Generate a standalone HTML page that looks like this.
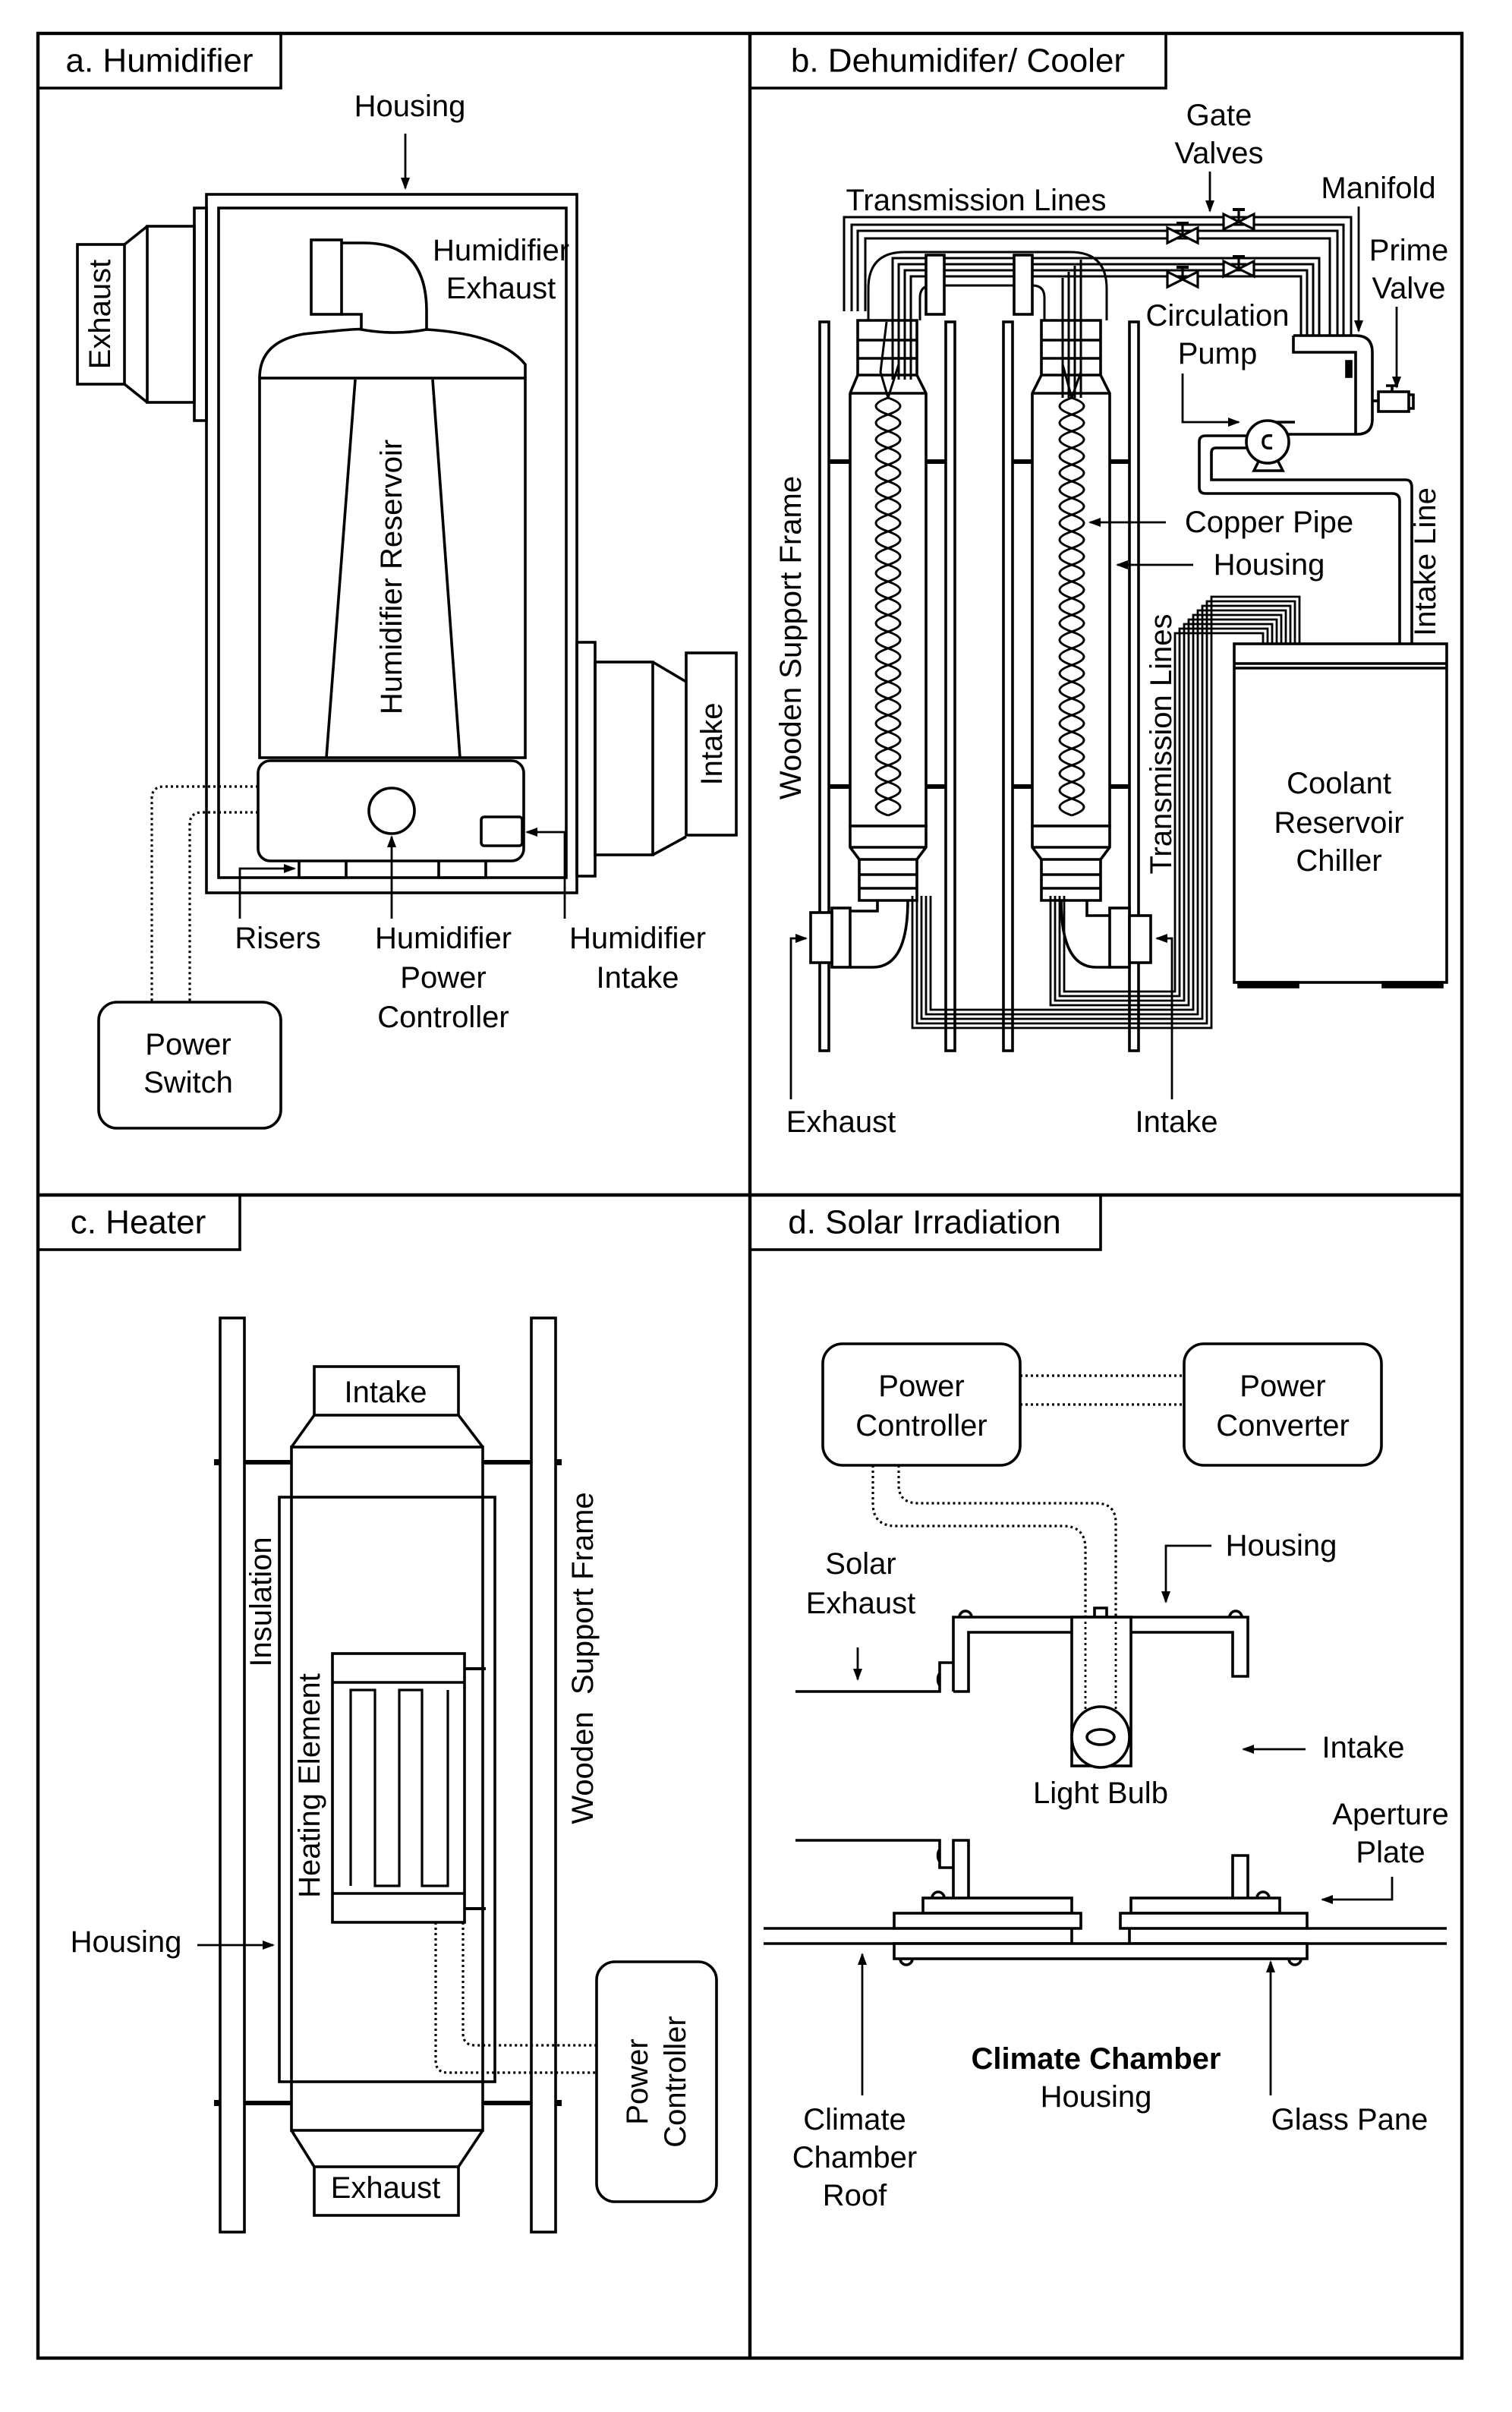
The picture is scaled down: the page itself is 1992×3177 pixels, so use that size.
<!DOCTYPE html>
<html><head><meta charset="utf-8"><style>
html,body{margin:0;padding:0;background:#fff}
svg{display:block}
text{font-family:"Liberation Sans",sans-serif;font-size:20px;fill:#000}
.t{font-size:22px}
</style></head><body>
<svg width="1992" height="3177" viewBox="0 0 996 1588.5" xmlns="http://www.w3.org/2000/svg">
<defs>
<marker id="ah" markerWidth="8" markerHeight="8" refX="7" refY="4" orient="auto" markerUnits="userSpaceOnUse"><path d="M0,1 L8,4 L0,7 Z" fill="#000"/></marker>
<path id="coilA" d="M0,262 Q16,267.5 0,273 T0,284 T0,295 T0,306 T0,317 T0,328 T0,339 T0,350 T0,361 T0,372 T0,383 T0,394 T0,405 T0,416 T0,427 T0,438 T0,449 T0,460 T0,471 T0,482 T0,493 T0,504 T0,515 T0,526 T0,537"/>
<path id="coilB" d="M0,262 Q-16,267.5 0,273 T0,284 T0,295 T0,306 T0,317 T0,328 T0,339 T0,350 T0,361 T0,372 T0,383 T0,394 T0,405 T0,416 T0,427 T0,438 T0,449 T0,460 T0,471 T0,482 T0,493 T0,504 T0,515 T0,526 T0,537"/>
<g id="valve"><path d="M-10,-5 L10,5 L10,-5 L-10,5 Z" fill="#fff" stroke="#000" stroke-width="1.6"/><line x1="0" y1="0" x2="0" y2="-8" stroke="#000" stroke-width="1.6"/><line x1="-4" y1="-8" x2="4" y2="-8" stroke="#000" stroke-width="2"/></g>
</defs>
<g fill="none" stroke="#000" stroke-width="1.8">
<rect x="25" y="22" width="938" height="1531" stroke-width="2.2"/>
<line x1="494" y1="22" x2="494" y2="1553" stroke-width="2.2"/>
<line x1="25" y1="787" x2="963" y2="787" stroke-width="2.2"/>
<rect x="25" y="22" width="160" height="36"/>
<rect x="494" y="22" width="274" height="36"/>
<rect x="25" y="787" width="133" height="36"/>
<rect x="494" y="787" width="231" height="36"/>

<!-- ===== Panel a ===== -->
<rect x="136" y="128" width="244" height="460"/>
<rect x="144" y="137" width="229" height="441"/>
<rect x="128" y="137" width="8" height="140"/>
<rect x="97" y="149" width="31" height="116"/>
<path d="M97,149 L82,161 M97,265 L82,253"/>
<rect x="51" y="161" width="31" height="92"/>
<rect x="205" y="158" width="20" height="49"/>
<path d="M225,160 H240 Q281,160 281,205 V217"/>
<path d="M225,207 H238 V217"/>
<path d="M171,249 Q171,225 200,220 Q238,216 238,217 Q260,221 281,217 Q330,220 346,240 L346,249"/>
<rect x="171" y="249" width="175" height="250"/>
<path d="M234,250 L215,499 M285,250 L303,499"/>
<rect x="170" y="501" width="175" height="66" rx="8"/>
<circle cx="258" cy="534" r="15"/>
<rect x="317" y="538" width="27" height="19" rx="2"/>
<path d="M197,567 V578 M228,567 V578 M289,567 V578 M320,567 V578 M197,578 H228 M289,578 H320"/>
<rect x="380" y="423" width="12" height="154"/>
<rect x="392" y="436" width="38" height="127"/>
<path d="M430,436 L452,449 M430,563 L452,551"/>
<rect x="452" y="430" width="33" height="120"/>
<path d="M170,518 H108 Q100,518 100,526 V660" stroke-dasharray="1.5,2" stroke-width="1.6"/>
<path d="M170,535 H133 Q125,535 125,543 V660" stroke-dasharray="1.5,2" stroke-width="1.6"/>
<rect x="65" y="660" width="120" height="83" rx="12"/>
<path d="M267,88 V124" marker-end="url(#ah)" stroke-width="1.4"/>
<path d="M158,605 V572 H194" marker-end="url(#ah)" stroke-width="1.4"/>
<path d="M258,605 V551" marker-end="url(#ah)" stroke-width="1.4"/>
<path d="M372,605 V548 H347" marker-end="url(#ah)" stroke-width="1.4"/>

<!-- ===== Panel b ===== -->
<rect x="540" y="212" width="6" height="480"/>
<rect x="623" y="212" width="6" height="480"/>
<rect x="661" y="212" width="6" height="480"/>
<rect x="744" y="212" width="6" height="480"/>
<g stroke-width="3">
<path d="M546,304 H560 M610,304 H623 M667,304 H680 M731,304 H744"/>
<path d="M546,518 H560 M610,518 H623 M667,518 H680 M731,518 H744"/>
</g>
<path d="M565,211 H604 V247 L610,259 V544 H560 V259 L565,247 Z" fill="#fff"/>
<path d="M565,224 H604 M565,236 H604 M565,247 H604 M560,259 H610"/>
<path d="M560,544 H610 V558 L604,566 V593 H566 V566 L560,558 Z" fill="#fff"/>
<path d="M560,558 H610 M566,566 H604 M566,576 H604 M566,585 H604"/>
<path d="M686,211 H725 V247 L731,259 V544 H680 V259 L686,247 Z" fill="#fff"/>
<path d="M686,224 H725 M686,236 H725 M686,247 H725 M680,259 H731"/>
<path d="M680,544 H731 V558 L725,566 V593 H686 V566 L680,558 Z" fill="#fff"/>
<path d="M680,558 H731 M686,566 H725 M686,576 H725 M686,585 H725"/>
<g stroke-width="1.5">
<use href="#coilA" x="585"/><use href="#coilB" x="585"/>
<use href="#coilA" x="706"/><use href="#coilB" x="706"/>
<path d="M585,262 L592,240 V212 M585,262 L580,245 L584,212"/>
<path d="M706,262 L700,240 V212 M706,262 L712,245 V212"/>
</g>
<path d="M578,593 V600 H560 M598,593 Q598,637 575,637 H560"/>
<rect x="548" y="598" width="12" height="39" fill="#fff"/>
<rect x="534" y="601" width="14" height="33" fill="#fff"/>
<path d="M716,593 V603 H731 M699,593 Q699,637 722,637 H731"/>
<rect x="731" y="598" width="13" height="39" fill="#fff"/>
<rect x="744" y="603" width="14" height="31" fill="#fff"/>
<g stroke-width="1.5">
<path d="M556,205 V143 H890 V221"/>
<path d="M561,205 V148 H885 V221"/>
<path d="M565,205 V152 H881 V221"/>
<path d="M570,205 V157 H876 V221"/>
<path d="M588,250 V170 H869 V221"/>
<path d="M592,250 V174 H865 V221"/>
<path d="M596,250 V178 H861 V221"/>
<path d="M600,250 V182 H857 V221"/>
<path d="M712,262 V171 M708,262 V175 M704,262 V179 M700,262 V183"/>
<path d="M572,211 V190 Q572,166 596,166 H705 Q729,166 729,190 V211"/>
<path d="M606,211 V196 Q606,188 614,188 H680 Q688,188 688,196 V211"/>
</g>
<rect x="610" y="168" width="12" height="39" fill="#fff"/>
<rect x="668" y="168" width="12" height="39" fill="#fff"/>
<use href="#valve" x="816" y="146"/>
<use href="#valve" x="779" y="155"/>
<use href="#valve" x="816" y="177"/>
<use href="#valve" x="779" y="184"/>
<path d="M852,221 H893 Q904,221 904,232 V276 Q904,286 894,286 H853" fill="#fff"/>
<path d="M852,221 V232 H893 V286"/>
<rect x="887" y="238" width="3" height="10" fill="#000"/>
<path d="M904,264 H908"/>
<rect x="908" y="258" width="20" height="13" fill="#fff"/>
<path d="M928,260 H931 V269 H928 M917,258 V254 M913,254 H921"/>
<path d="M835,278 H853 M835,286 H853"/>
<circle cx="835" cy="291" r="14" fill="#fff"/>
<path d="M838,287 Q832,286 832,291 Q832,296 838,295"/>
<path d="M829,304 L826,310 H845 L842,304"/>
<path d="M821,287 H794 Q790,287 790,291 V321 Q790,325 794,325 H917 Q922,325 922,330 V424"/>
<path d="M821,295 H801 Q798,295 798,298 V316 H926 Q930,316 930,321 V424" />
<rect x="813" y="424" width="140" height="223"/>
<path d="M813,437 H953 M813,440 H953" />
<rect x="816" y="647" width="39" height="3" fill="#000"/>
<rect x="911" y="647" width="39" height="3" fill="#000"/>
<g stroke-width="1.4">
<path d="M601,590 V677 H798 V393 H856 V424"/>
<path d="M604,590 V674 H795 V396 H853 V424"/>
<path d="M607,590 V671 H792 V399 H850 V424"/>
<path d="M610,590 V668 H789 V402 H847 V424"/>
<path d="M613,590 V665 H786 V405 H844 V424"/>
<path d="M692,590 V662 H783 V408 H841 V424"/>
<path d="M695,590 V659 H780 V411 H838 V424"/>
<path d="M698,590 V656 H777 V414 H835 V424"/>
<path d="M701,590 V653 H774 V417 H832 V424"/>
</g>
<g stroke-width="1.4">
<path d="M797,113 V139" marker-end="url(#ah)"/>
<path d="M895,136 V218" marker-end="url(#ah)"/>
<path d="M920,202 V255" marker-end="url(#ah)"/>
<path d="M779,246 V278 H816" marker-end="url(#ah)"/>
<path d="M768,344 H718" marker-end="url(#ah)"/>
<path d="M786,372 H736" marker-end="url(#ah)"/>
<path d="M521,724 V618 H531" marker-end="url(#ah)"/>
<path d="M772,724 V618 H762" marker-end="url(#ah)"/>
</g>

<!-- ===== Panel c ===== -->
<rect x="145" y="868" width="16" height="602"/>
<rect x="350" y="868" width="16" height="602"/>
<rect x="207" y="900" width="95" height="32"/>
<path d="M207,932 L192,953 M302,932 L318,953"/>
<rect x="192" y="953" width="126" height="450"/>
<rect x="184" y="986" width="142" height="385"/>
<path d="M192,1403 L207,1427 M318,1403 L302,1427"/>
<rect x="207" y="1427" width="95" height="32"/>
<g stroke-width="3">
<path d="M161,963 H192 M318,963 H350 M161,1385 H192 M318,1385 H350"/>
</g>
<path d="M141,963 H145 M366,963 H370 M141,1385 H145 M366,1385 H370" stroke-width="4"/>
<rect x="219" y="1089" width="87" height="177" fill="#fff"/>
<path d="M219,1108 H306 M219,1247 H306"/>
<path d="M231,1242 V1113 H247 V1242 H263 V1113 H278 V1242 H295 V1113" stroke-width="1.6"/>
<path d="M306,1099 H320 M306,1257 H320" stroke-width="2"/>
<path d="M305,1266 V1339 Q305,1347 313,1347 H393" stroke-dasharray="1.5,2" stroke-width="1.6"/>
<path d="M287,1266 V1357 Q287,1365 295,1365 H393" stroke-dasharray="1.5,2" stroke-width="1.6"/>
<rect x="393" y="1292" width="79" height="158" rx="12"/>
<path d="M130,1281 H180" marker-end="url(#ah)" stroke-width="1.4"/>

<!-- ===== Panel d ===== -->
<rect x="542" y="885" width="130" height="80" rx="13"/>
<rect x="780" y="885" width="130" height="80" rx="13"/>
<g stroke-dasharray="1.5,2" stroke-width="1.6">
<path d="M672,906 H780 M672,925 H780"/>
<path d="M575,965 V990 Q575,1005 590,1005 H700 Q715,1005 715,1020 V1125"/>
<path d="M592,965 V978 Q592,990 605,990 H722 Q735,990 735,1003 V1125"/>
</g>
<path d="M628,1114 V1065 H822 V1104 H812 V1075 H745"/>
<path d="M706,1075 H638 V1114 H628"/>
<rect x="706" y="1065" width="39" height="98" fill="#fff"/>
<path d="M715,1068 V1130 M735,1068 V1130" stroke-dasharray="1.5,2" stroke-width="1.4"/>
<ellipse cx="725" cy="1144" rx="19" ry="20" fill="#fff"/>
<ellipse cx="725" cy="1144" rx="9" ry="5"/>
<path d="M632,1065 A4,4 0 0 1 640,1065 M810,1065 A4,4 0 0 1 818,1065 M721,1065 V1059 H729 V1065"/>
<path d="M524,1114 H619 V1095 H628 M619,1102 A3,5 0 0 0 619,1110"/>
<path d="M524,1212 H619 V1230 H628 M619,1218 A3,5 0 0 0 619,1226"/>
<path d="M628,1250 V1212 H638 V1250"/>
<path d="M812,1250 V1222 H822 V1250"/>
<rect x="608" y="1250" width="98" height="10" fill="#fff"/>
<rect x="745" y="1250" width="98" height="10" fill="#fff"/>
<rect x="589" y="1260" width="123" height="10" fill="#fff"/>
<rect x="738" y="1260" width="123" height="10" fill="#fff"/>
<path d="M503,1270 H589 M861,1270 H953 M503,1280 H706 V1270 M744,1270 V1280 H953"/>
<rect x="589" y="1280" width="272" height="10" fill="#fff"/>
<path d="M614,1250 A4,4 0 0 1 622,1250 M828,1250 A4,4 0 0 1 836,1250 M593,1290 A4,4 0 0 0 601,1290 M849,1290 A4,4 0 0 0 857,1290"/>
<g stroke-width="1.4">
<path d="M565,1085 V1106" marker-end="url(#ah)"/>
<path d="M798,1018 H768 V1055" marker-end="url(#ah)"/>
<path d="M860,1152 H819" marker-end="url(#ah)"/>
<path d="M917,1236 V1251 H871" marker-end="url(#ah)"/>
<path d="M568,1380 V1287" marker-end="url(#ah)"/>
<path d="M837,1380 V1292" marker-end="url(#ah)"/>
</g>
</g>

<g text-anchor="middle" dominant-baseline="central">
<text class="t" x="105" y="40">a. Humidifier</text>
<text class="t" x="631" y="40">b. Dehumidifer/ Cooler</text>
<text class="t" x="91" y="805">c. Heater</text>
<text class="t" x="609" y="805">d. Solar Irradiation</text>

<text x="270" y="70">Housing</text>
<text x="330" y="165">Humidifier</text>
<text x="330" y="190">Exhaust</text>
<text transform="translate(258,380) rotate(-90)">Humidifier Reservoir</text>
<text transform="translate(66,207) rotate(-90)">Exhaust</text>
<text transform="translate(469,490) rotate(-90)">Intake</text>
<text x="183" y="618">Risers</text>
<text x="292" y="618">Humidifier</text>
<text x="292" y="644">Power</text>
<text x="292" y="670">Controller</text>
<text x="420" y="618">Humidifier</text>
<text x="420" y="644">Intake</text>
<text x="124" y="688">Power</text>
<text x="124" y="713">Switch</text>

<text x="803" y="76">Gate</text>
<text x="803" y="101">Valves</text>
<text x="643" y="132">Transmission Lines</text>
<text x="908" y="124">Manifold</text>
<text x="928" y="165">Prime</text>
<text x="928" y="190">Valve</text>
<text x="802" y="208">Circulation</text>
<text x="802" y="233">Pump</text>
<text x="836" y="344">Copper Pipe</text>
<text x="836" y="372">Housing</text>
<text transform="translate(939,370) rotate(-90)">Intake Line</text>
<text transform="translate(521,420) rotate(-90)">Wooden Support Frame</text>
<text transform="translate(765,490) rotate(-90)">Transmission Lines</text>
<text x="882" y="516">Coolant</text>
<text x="882" y="542">Reservoir</text>
<text x="882" y="567">Chiller</text>
<text x="554" y="739">Exhaust</text>
<text x="775" y="739">Intake</text>

<text x="254" y="917">Intake</text>
<text x="254" y="1441">Exhaust</text>
<text transform="translate(172,1055) rotate(-90)">Insulation</text>
<text transform="translate(204,1176) rotate(-90)">Heating Element</text>
<text transform="translate(384,1092) rotate(-90)" xml:space="preserve">Wooden  Support Frame</text>
<text x="83" y="1279">Housing</text>
<text transform="translate(420,1371) rotate(-90)">Power</text>
<text transform="translate(445,1371) rotate(-90)">Controller</text>

<text x="607" y="913">Power</text>
<text x="607" y="939">Controller</text>
<text x="845" y="913">Power</text>
<text x="845" y="939">Converter</text>
<text x="844" y="1018">Housing</text>
<text x="567" y="1030">Solar</text>
<text x="567" y="1056">Exhaust</text>
<text x="898" y="1151">Intake</text>
<text x="725" y="1181">Light Bulb</text>
<text x="916" y="1195">Aperture</text>
<text x="916" y="1220">Plate</text>
<text x="722" y="1356" font-weight="bold">Climate Chamber</text>
<text x="722" y="1381">Housing</text>
<text x="563" y="1396">Climate</text>
<text x="563" y="1421">Chamber</text>
<text x="563" y="1446">Roof</text>
<text x="889" y="1396">Glass Pane</text>
</g>
</svg>
</body></html>
